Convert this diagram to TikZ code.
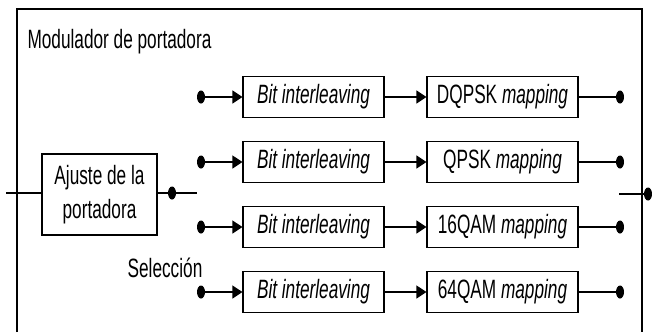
\documentclass[tikz,border=0pt]{standalone}
\usepackage{fontspec}
\setmainfont{Liberation Sans}[FakeStretch=0.65]
\usetikzlibrary{arrows.meta,shapes.geometric}

\begin{document}
\begin{tikzpicture}[x=1pt,y=-1pt,>={Triangle[length=10pt,width=13pt]},
  font=\fontsize{26.5}{34}\selectfont,
  block/.style={draw,line width=1.2pt,inner sep=0pt,align=center},
  bitblock/.style={block,minimum width=141pt,minimum height=41pt},
  mapblock/.style={block,minimum width=151pt,minimum height=41pt},
  dotnode/.style={ellipse,fill=black,inner sep=0pt,minimum width=8pt,minimum height=13pt},
  wire/.style={line width=1.2pt}]
\useasboundingbox (0,0) rectangle (652,332);
% Frame (open at the bottom)
\draw[wire] (17,332) -- (17,9) -- (642,9) -- (642,332);
\node[anchor=west] (title) at (24,42) {Modulador de portadora};

% Carrier adjustment
\node[block,minimum width=115pt,minimum height=81pt] (ajuste) at (99.5,194.5) {Ajuste de la\\portadora};
\coordinate (in) at (6,193);
\node[dotnode] (ajdot) at (172,193) {};
\coordinate (ajend) at (197,193);
\draw[wire] (in) -- (ajuste.west|-in);
\draw[wire] (ajuste.east|-ajdot) -- (ajdot) -- (ajend);
\node (sel) at (165,268) {Selección};

% Branches
\foreach \y/\txt [count=\i] in {97/DQPSK,162/QPSK,227/16QAM,292/64QAM}{
  \node[dotnode] (src\i) at (201,\y) {};
  \node[bitblock] (bit\i) at (313.5,\y) {\itshape Bit interleaving};
  \node[mapblock] (map\i) at (502.5,\y) {\txt\ \textit{mapping}};
  \node[dotnode] (out\i) at (620,\y) {};
  \draw[wire,->] (src\i) -- (bit\i);
  \draw[wire,->] (bit\i) -- (map\i);
  \draw[wire] (map\i) -- (out\i);
}

% Output
\coordinate (outsel) at (619,194);
\node[dotnode] (outdot) at (648,194) {};
\draw[wire] (outsel) -- (outdot);
\end{tikzpicture}
\end{document}
